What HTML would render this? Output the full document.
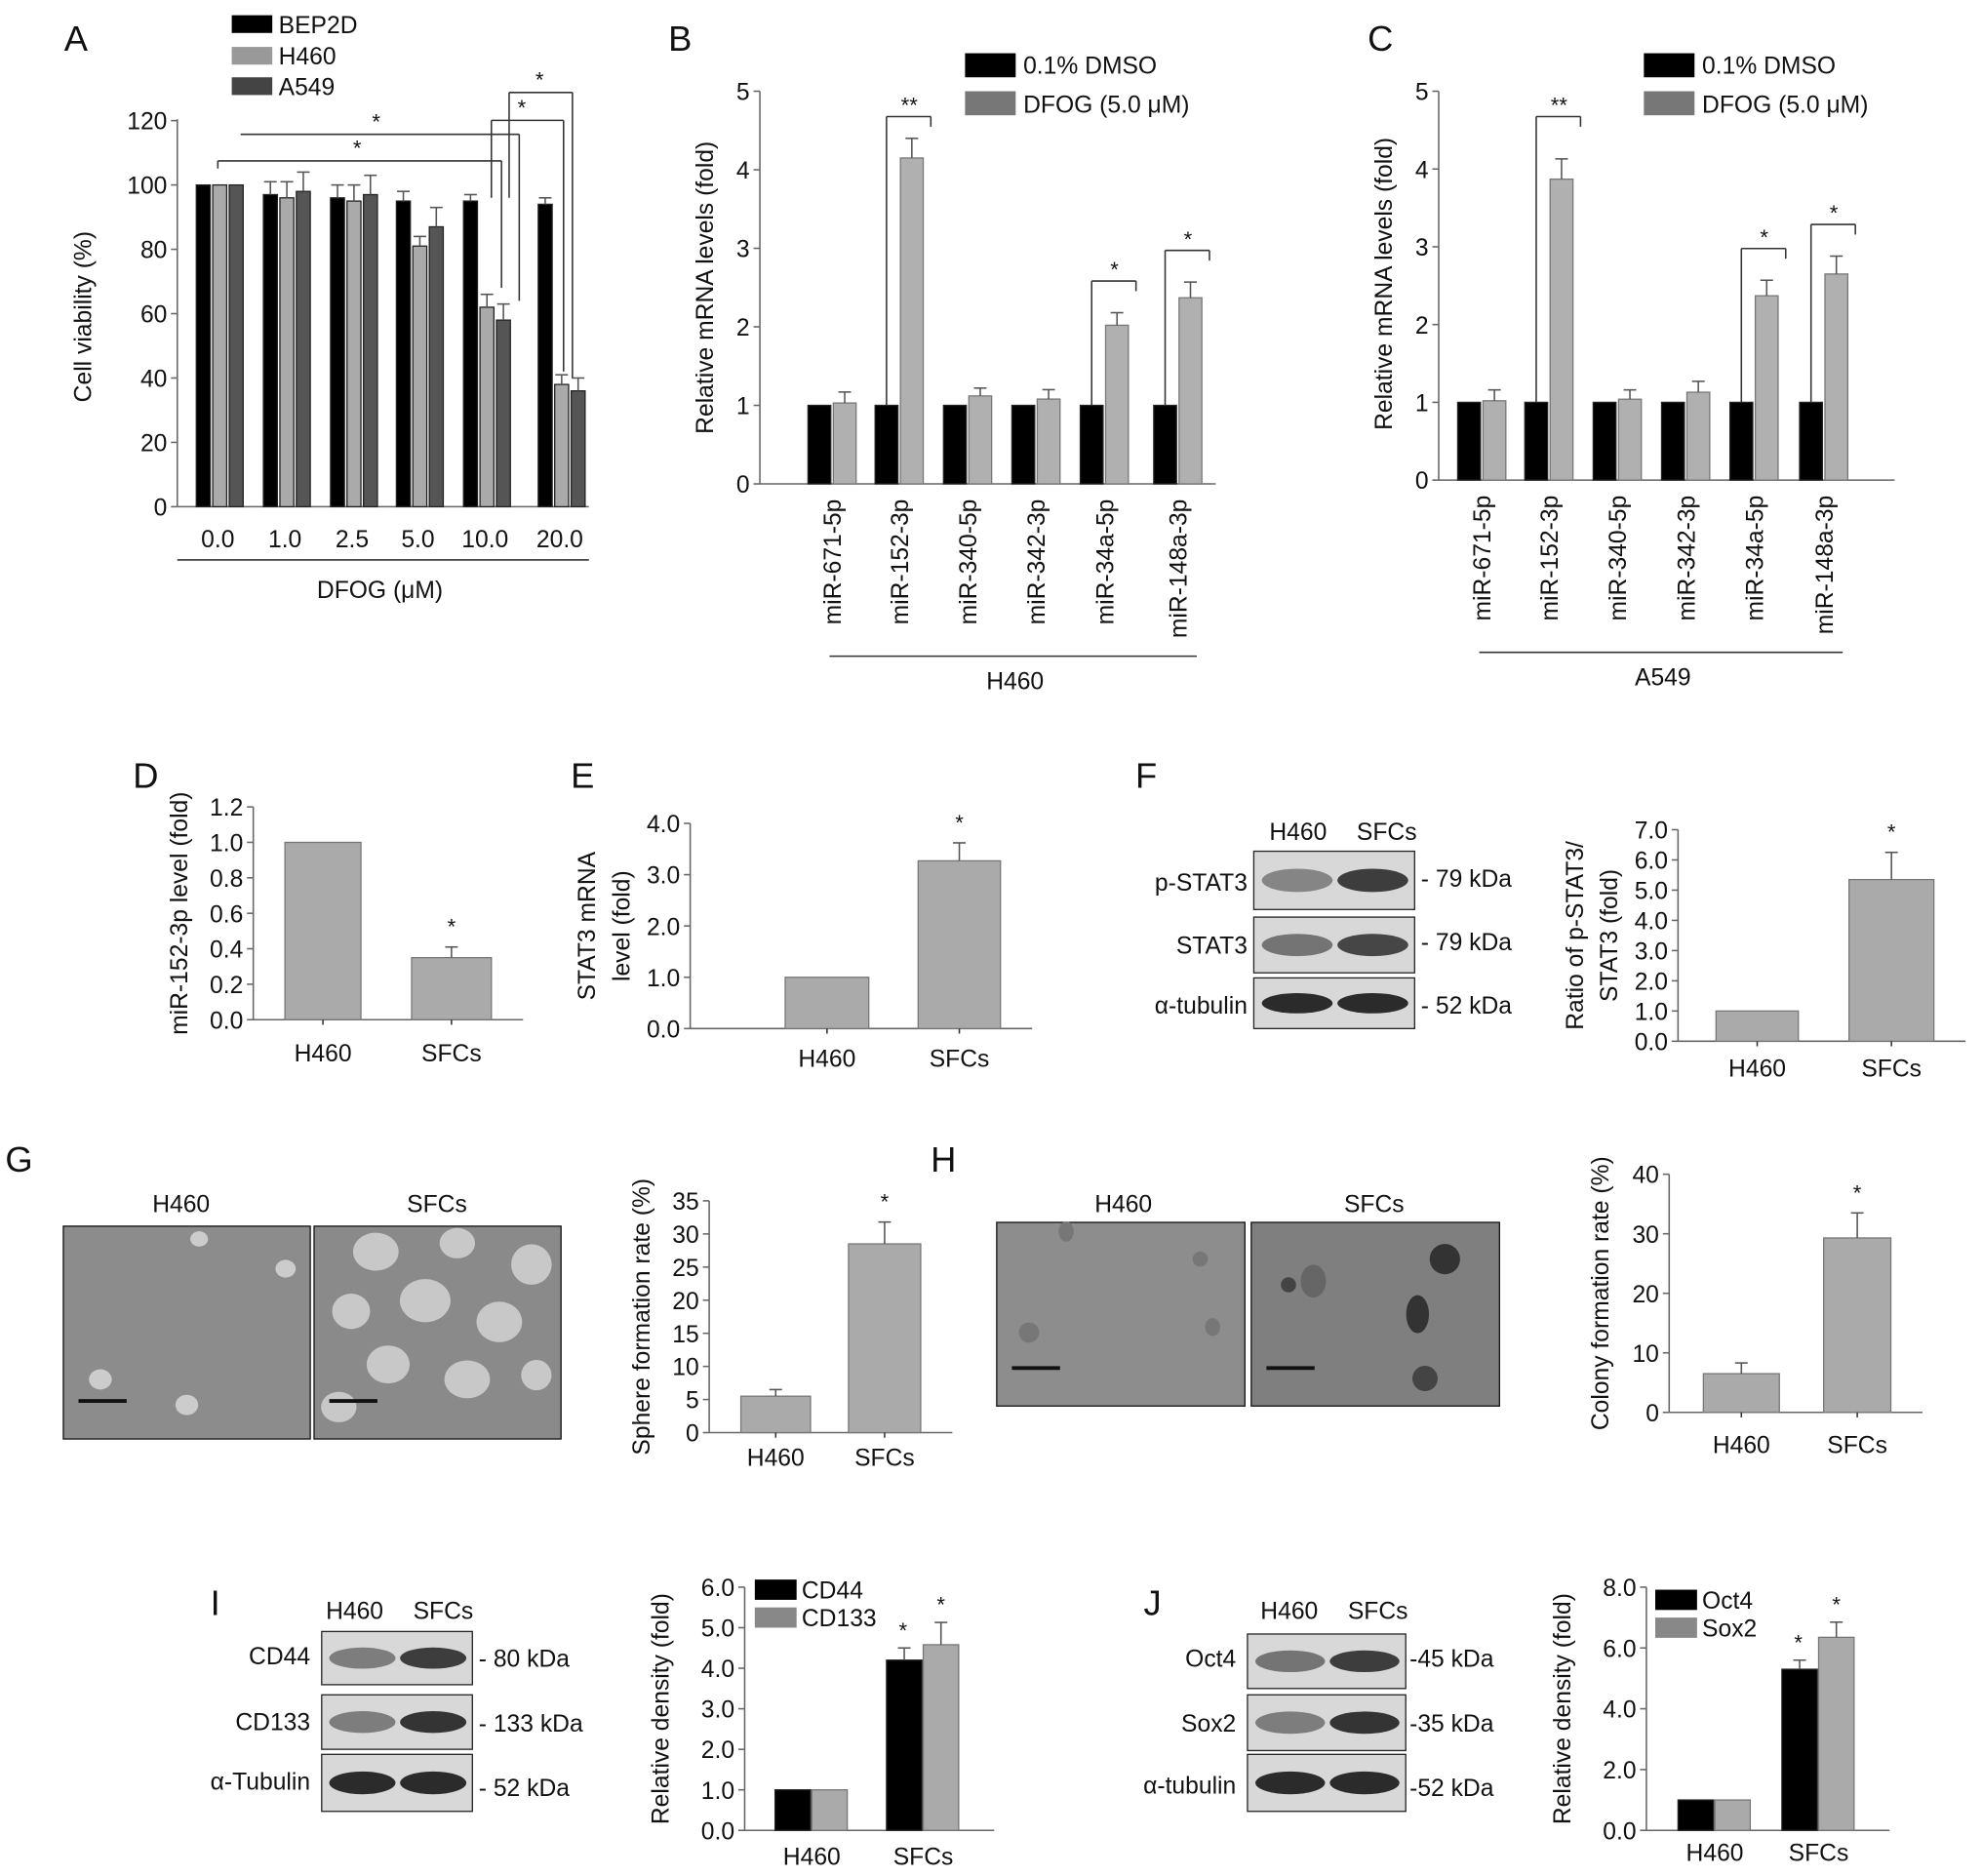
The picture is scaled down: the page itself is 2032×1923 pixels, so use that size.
<!DOCTYPE html>
<html><head><meta charset="utf-8"><style>
html,body{margin:0;padding:0;background:#fff;}
svg{display:block;font-family:"Liberation Sans",Arial,sans-serif;}
</style></head><body>
<svg id="fig" xmlns="http://www.w3.org/2000/svg" width="2032" height="1923" viewBox="0 0 1565 1481"></svg>
<script>
// ---------- data ----------
const aDoses = ["0.0","1.0","2.5","5.0","10.0","20.0"];
const aBEP2D = [100,97,96,95,95,94];
const aH460 = [100,96,95,81,62,38];
const aA549 = [100,98,97,87,58,36];
const aErrBEP = [0,4,4,3,2,2];
const aErrH460 = [0,5,5,3,4,3];
const aErrA549 = [0,6,6,6,5,4];
const aTicks = [0,20,40,60,80,100,120];

const mirCats = ["miR-671-5p","miR-152-3p","miR-340-5p","miR-342-3p","miR-34a-5p","miR-148a-3p"];
const bDMSO = [1,1,1,1,1,1];
const bDFOG = [1.03,4.15,1.12,1.08,2.02,2.37];
const bErr = [0.14,0.25,0.1,0.12,0.16,0.2];
const cDMSO = [1,1,1,1,1,1];
const cDFOG = [1.02,3.87,1.04,1.13,2.37,2.65];
const cErr = [0.14,0.26,0.12,0.14,0.2,0.23];
const mirTicks = [0,1,2,3,4,5];

const pairCats = ["H460","SFCs"];
const dVals = [1.0,0.35]; const dErr = [0,0.06];
const dTicks = [0,0.2,0.4,0.6,0.8,1.0,1.2];
const eVals = [1.0,3.27]; const eErr = [0,0.35];
const eTicks = [0,1,2,3,4];
const fVals = [1.0,5.35]; const fErr = [0,0.9];
const fTicks = [0,1,2,3,4,5,6,7];
const gVals = [5.5,28.5]; const gErr = [1,3.3];
const gTicks = [0,5,10,15,20,25,30,35];
const hVals = [6.5,29.3]; const hErr = [1.8,4.2];
const hTicks = [0,10,20,30,40];
const iCD44 = [1,4.2]; const iCD133 = [1,4.58];
const iErr44 = [0,0.3]; const iErr133 = [0,0.55];
const iTicks = [0,1,2,3,4,5,6];
const jOct4 = [1,5.3]; const jSox2 = [1,6.35];
const jErrO = [0,0.3]; const jErrS = [0,0.5];
const jTicks = [0,2,4,6,8];

// ---------- helpers ----------
const svg = document.getElementById('fig');
const NS = "http://www.w3.org/2000/svg";
function mk(tag, attrs, name, inter){
  const e = document.createElementNS(NS, tag);
  for (const k in attrs) e.setAttribute(k, attrs[k]);
  
  
  svg.appendChild(e);
  return e;
}
function T(x,y,s,size,name,anchor,rot){
  const a = {x:x,y:y,'font-size':size,'text-anchor':anchor||'middle',fill:'#111'};
  if (rot) a.transform = 'rotate(-90 '+x+' '+y+')';
  const e = mk('text', a, name, false);
  e.textContent = s;
  return e;
}
function L(x1,y1,x2,y2,name,w,c){ return mk('line',{x1:x1,y1:y1,x2:x2,y2:y2,stroke:c||'#333','stroke-width':w||1.2},name,false); }
function R(x,y,w,h,fill,name,stroke){ return mk('rect',{x:x,y:y,width:w,height:h,fill:fill,stroke:stroke||'none','stroke-width':1},name,false); }
function errBar(x, yTop, yErr, name){
  if (Math.abs(yTop-yErr) < 0.5) return;
  L(x,yTop,x,yErr,name,1.2,'#555');
  L(x-5,yErr,x+5,yErr,name+'-cap',1.2,'#555');
}
function yAxis(ax, y0, ytop, ticks, scale, fmt, name){
  L(ax, y0, ax, ytop, name+'-line', 1.2, '#666');
  ticks.forEach(t=>{
    const y = scale(t);
    L(ax-5,y,ax,y,name+'-tick',1.2,'#666');
    T(ax-8, y+7, fmt(t), 19, name+'-tick-label', 'end');
  });
}

// ---------- Panel A ----------
T(60,40,'A',28,'panel-label-a');
const yA = v => 400 - v*2.54;
const aCenters = [172,225,278,330,383,442];
yAxis(140,400,94,aTicks,yA,t=>String(t),'a-y-axis');
L(140,400,465,400,'a-x-axis',1.2,'#666');
T(72,250,'Cell viability (%)',19,'a-y-axis-title','middle',true);
const aSeries = [[aBEP2D,aErrBEP,'#000','bep2d'],[aH460,aErrH460,'#aaa','h460'],[aA549,aErrA549,'#555','a549']];
aDoses.forEach((d,i)=>{
  aSeries.forEach((s,k)=>{
    const x = aCenters[i]-17+k*13;
    R(x, yA(s[0][i]), 11, 400-yA(s[0][i]), s[2], 'a-bar-'+s[3]+'-'+d, '#222');
    errBar(x+5.5, yA(s[0][i]), yA(s[0][i]+s[1][i]), 'a-error-'+s[3]);
  });
  T(aCenters[i], 432, d, 19, 'a-x-tick-label');
});
L(140,442,465,442,'a-x-group-line',1.2,'#333');
T(300,472,'DFOG (μM)',19,'a-x-axis-title');
[['BEP2D','#000',12],['H460','#999',37],['A549','#444',61]].forEach(l=>{
  R(183,l[2],32,14,l[1],'a-legend-swatch-'+l[0].toLowerCase());
  T(220,l[2]+14,l[0],19,'a-legend-label-'+l[0].toLowerCase(),'start');
});
// significance
L(172,127,396,127,'a-sig-line'); L(172,127,172,133,'a-sig-line'); L(396,127,396,yA(68),'a-sig-line');
T(282,123,'*',17,'a-sig-star');
L(190,106,410,106,'a-sig-line'); L(410,106,410,yA(64),'a-sig-line');
T(297,102,'*',17,'a-sig-star');
L(388,95,445,95,'a-sig-line'); L(388,95,388,yA(96),'a-sig-line'); L(445,95,445,yA(42),'a-sig-line');
T(412,91,'*',17,'a-sig-star');
L(402,73,452,73,'a-sig-line'); L(402,73,402,yA(96),'a-sig-line'); L(452,73,452,yA(40),'a-sig-line');
T(426,69,'*',17,'a-sig-star');

// ---------- Panels B and C ----------
function mirPanel(p, ax, y0, sc, centers, dmso, dfog, err, group, letter, lx){
  const yS = v => y0 - v*sc;
  T(lx, 40, letter, 28, 'panel-label-'+p);
  yAxis(ax, y0, yS(5), mirTicks, yS, t=>String(t), p+'-y-axis');
  L(ax, y0, ax+360, y0, p+'-x-axis',1.2,'#666');
  T(ax-37, y0-155, 'Relative mRNA levels (fold)', 19, p+'-y-axis-title','middle',true);
  mirCats.forEach((c,i)=>{
    const cx = centers[i];
    R(cx-19, yS(dmso[i]), 18, y0-yS(dmso[i]), '#000', p+'-bar-dmso-'+c, '#222');
    R(cx+1, yS(dfog[i]), 18, y0-yS(dfog[i]), '#b0b0b0', p+'-bar-dfog-'+c, '#777');
    errBar(cx+10, yS(dfog[i]), yS(dfog[i]+err[i]), p+'-error-'+c);
    T(cx+7, y0+12, c, 19, p+'-x-tick-label', 'end', true);
  });
  L(centers[0]-2, y0+136, centers[5]+15, y0+136, p+'-group-line',1.2,'#333');
  T((centers[0]+centers[5])/2+8, y0+162, group, 19, p+'-group-label');
  R(ax+162, 42, 40, 19, '#000', p+'-legend-swatch-dmso');
  T(ax+208, 58, '0.1% DMSO', 19, p+'-legend-label-dmso','start');
  R(ax+162, 72, 40, 19, '#777', p+'-legend-swatch-dfog');
  T(ax+208, 89, 'DFOG (5.0 μM)', 19, p+'-legend-label-dfog','start');
  [[1,'**',92],[4,null,0],[5,null,0]].forEach(s=>{
    const i = s[0]; const cx = centers[i];
    const top = s[2] || (yS(dfog[i]+err[i]) - 25);
    L(cx-10, yS(1), cx-10, top, p+'-sig-line');
    L(cx-10, top, cx+25, top, p+'-sig-line');
    L(cx+25, top, cx+25, top+8, p+'-sig-line');
    T(cx+8, top-3, s[1]||'*', 17, p+'-sig-star');
  });
}
mirPanel('b', 600, 382, 62, [657,710,764,818,872,930], bDMSO, bDFOG, bErr, 'H460', 'B', 537);
mirPanel('c', 1136, 379, 61.4, [1170,1223,1277,1331,1385,1440], cDMSO, cDFOG, cErr, 'A549', 'C', 1090);

// ---------- simple two-bar panels ----------
function twoBar(p, ax, y0, ytop, vmax, ticks, fmt, bars, vals, err, titleLines, tx, lblY){
  const yS = v => y0 - v*(y0-ytop)/vmax;
  yAxis(ax, y0, ytop, ticks, yS, fmt, p+'-y-axis');
  L(ax, y0, bars[1][1]+25, y0, p+'-x-axis',1.2,'#666');
  pairCats.forEach((c,i)=>{
    const b = bars[i];
    R(b[0], yS(vals[i]), b[1]-b[0], y0-yS(vals[i]), '#aaa', p+'-bar-'+c.toLowerCase(), '#777');
    errBar((b[0]+b[1])/2, yS(vals[i]), yS(vals[i]+err[i]), p+'-error-'+c.toLowerCase());
    L((b[0]+b[1])/2, y0, (b[0]+b[1])/2, y0+4, p+'-x-tick');
    T((b[0]+b[1])/2, lblY, c, 19, p+'-x-tick-label');
  });
  T((bars[1][0]+bars[1][1])/2, yS(vals[1]+err[1])-10, '*', 17, p+'-sig-star');
  titleLines.forEach((s,k)=>{
    T(tx[k], (y0+ytop)/2, s, 19, p+'-y-axis-title'+(k?'-line2':''), 'middle', true);
  });
}
T(115,622,'D',28,'panel-label-d');
twoBar('d',200,805,637,1.2,dTicks,t=>t.toFixed(1),[[225,285],[325,388]],dVals,dErr,['miR-152-3p level (fold)'],[148],838);
T(460,622,'E',28,'panel-label-e');
twoBar('e',545,812,650,4,eTicks,t=>t.toFixed(1),[[620,686],[725,790]],eVals,eErr,['STAT3 mRNA','level (fold)'],[470,497],842);
T(905,622,'F',28,'panel-label-f');
twoBar('f',1325,822,655,7,fTicks,t=>t.toFixed(1),[[1355,1420],[1460,1527]],fVals,fErr,['Ratio of p-STAT3/','STAT3 (fold)'],[1250,1277],850);
T(15,925,'G',28,'panel-label-g');
twoBar('g',560,1131,948,35,gTicks,t=>String(t),[[585,640],[670,727]],gVals,gErr,['Sphere formation rate (%)'],[513],1157);
T(745,925,'H',28,'panel-label-h');
twoBar('h',1318,1115,927,40,hTicks,t=>String(t),[[1345,1405],[1440,1493]],hVals,hErr,['Colony formation rate (%)'],[1270],1147);

// ---------- grouped two-series panels ----------
function grouped(p, ax, y0, ytop, vmax, ticks, bars, s1, s2, e1, e2, names, legX, legY, lblY){
  const yS = v => y0 - v*(y0-ytop)/vmax;
  yAxis(ax, y0, ytop, ticks, yS, t=>t.toFixed(1), p+'-y-axis');
  L(ax, y0, bars[1]+85, y0, p+'-x-axis',1.2,'#666');
  T(ax-60, (y0+ytop)/2, 'Relative density (fold)', 19, p+'-y-axis-title','middle',true);
  pairCats.forEach((c,i)=>{
    const x = bars[i];
    R(x, yS(s1[i]), 28, y0-yS(s1[i]), '#000', p+'-bar-'+names[0].toLowerCase()+'-'+c.toLowerCase(), '#222');
    R(x+29, yS(s2[i]), 28, y0-yS(s2[i]), '#aaa', p+'-bar-'+names[1].toLowerCase()+'-'+c.toLowerCase(), '#777');
    errBar(x+14, yS(s1[i]), yS(s1[i]+e1[i]), p+'-error-'+names[0].toLowerCase());
    errBar(x+43, yS(s2[i]), yS(s2[i]+e2[i]), p+'-error-'+names[1].toLowerCase());
    T(x+29, lblY, c, 19, p+'-x-tick-label');
    if (i===1){
      T(x+13, yS(s1[i]+e1[i])-8, '*', 17, p+'-sig-star');
      T(x+43, yS(s2[i]+e2[i])-8, '*', 17, p+'-sig-star');
    }
  });
  R(legX, legY, 33, 16, '#000', p+'-legend-swatch-'+names[0].toLowerCase());
  T(legX+37, legY+15, names[0], 19, p+'-legend-label-'+names[0].toLowerCase(), 'start');
  R(legX, legY+22, 33, 16, '#888', p+'-legend-swatch-'+names[1].toLowerCase());
  T(legX+37, legY+37, names[1], 19, p+'-legend-label-'+names[1].toLowerCase(), 'start');
}
T(170,1275,'I',28,'panel-label-i');
grouped('i',588,1445,1253,6,iTicks,[612,700],iCD44,iCD133,iErr44,iErr133,['CD44','CD133'],596,1247,1472);
T(910,1275,'J',28,'panel-label-j');
grouped('j',1300,1445,1253,8,jTicks,[1325,1407],jOct4,jSox2,jErrO,jErrS,['Oct4','Sox2'],1307,1255,1469);

// ---------- western blots ----------
function blot(p, x, y, w, h, intens, name){
  R(x, y, w, h, '#d8d8d8', p+'-blot-'+name, '#222');
  intens.forEach((a,k)=>{
    mk('ellipse',{cx:x+w*(k?0.74:0.27), cy:y+h/2, rx:w*0.22, ry:h*0.2, fill:'#222', opacity:a}, p+'-band-'+name+'-'+(k?'sfcs':'h460'), false);
  });
}
T(1025,663,'H460',19,'f-lane-label-h460'); T(1095,663,'SFCs',19,'f-lane-label-sfcs');
blot('f',990,672,127,46,[0.45,0.85],'p-stat3');
blot('f',990,724,127,44,[0.55,0.8],'stat3');
blot('f',990,772,127,40,[0.95,0.95],'tubulin');
T(985,703,'p-STAT3',19,'f-row-label-pstat3','end'); T(985,753,'STAT3',19,'f-row-label-stat3','end'); T(985,800,'α-tubulin',19,'f-row-label-tubulin','end');
T(1122,700,'- 79 kDa',19,'f-kda-pstat3','start'); T(1122,750,'- 79 kDa',19,'f-kda-stat3','start'); T(1122,800,'- 52 kDa',19,'f-kda-tubulin','start');
T(280,1278,'H460',19,'i-lane-label-h460'); T(350,1278,'SFCs',19,'i-lane-label-sfcs');
blot('i',254,1288,119,42,[0.5,0.85],'cd44');
blot('i',254,1338,119,43,[0.5,0.9],'cd133');
blot('i',254,1385,119,45,[0.95,0.95],'tubulin');
T(245,1314,'CD44',19,'i-row-label-cd44','end'); T(245,1366,'CD133',19,'i-row-label-cd133','end'); T(245,1413,'α-Tubulin',19,'i-row-label-tubulin','end');
T(378,1316,'- 80 kDa',19,'i-kda-cd44','start'); T(378,1367,'- 133 kDa',19,'i-kda-cd133','start'); T(378,1418,'- 52 kDa',19,'i-kda-tubulin','start');
T(1018,1278,'H460',19,'j-lane-label-h460'); T(1088,1278,'SFCs',19,'j-lane-label-sfcs');
blot('j',985,1290,125,43,[0.55,0.85],'oct4');
blot('j',985,1338,125,44,[0.5,0.9],'sox2');
blot('j',985,1385,125,45,[0.95,0.95],'tubulin');
T(976,1316,'Oct4',19,'j-row-label-oct4','end'); T(976,1367,'Sox2',19,'j-row-label-sox2','end'); T(976,1416,'α-tubulin',19,'j-row-label-tubulin','end');
T(1113,1316,'-45 kDa',19,'j-kda-oct4','start'); T(1113,1367,'-35 kDa',19,'j-kda-sox2','start'); T(1113,1418,'-52 kDa',19,'j-kda-tubulin','start');

// ---------- micrographs ----------
function micro(p, x, y, w, h, fill, blobs, name){
  R(x, y, w, h, fill, p+'-image-'+name, '#111');
  blobs.forEach(b=>{
    mk('ellipse',{cx:x+b[0]*w, cy:y+b[1]*h, rx:b[2], ry:b[3], fill:b[4]}, p+'-colony', false);
  });
  L(x+12, y+h-30, x+50, y+h-30, p+'-scale-bar', 3, '#111');
}
T(143,957,'H460',19,'g-image-label-h460'); T(345,957,'SFCs',19,'g-image-label-sfcs');
micro('g',50,968,195,168,'#8c8c8c',[[0.55,0.06,7,6,'#ccc'],[0.9,0.2,8,7,'#ccc'],[0.15,0.72,9,8,'#ccc'],[0.5,0.84,9,8,'#ccc']],'h460');
micro('g',248,968,195,168,'#8a8a8a',[[0.25,0.12,18,15,'#c8c8c8'],[0.58,0.08,14,12,'#c8c8c8'],[0.88,0.18,16,16,'#c8c8c8'],[0.15,0.4,15,14,'#c8c8c8'],[0.45,0.35,20,17,'#c8c8c8'],[0.75,0.45,18,16,'#c8c8c8'],[0.3,0.65,17,15,'#c8c8c8'],[0.62,0.72,18,15,'#c8c8c8'],[0.9,0.7,12,12,'#c8c8c8'],[0.1,0.85,14,12,'#c8c8c8']],'sfcs');
T(887,957,'H460',19,'h-image-label-h460'); T(1085,957,'SFCs',19,'h-image-label-sfcs');
micro('h',787,965,196,145,'#8d8d8d',[[0.28,0.05,6,8,'#777'],[0.82,0.2,6,6,'#777'],[0.13,0.6,8,8,'#777'],[0.87,0.57,6,7,'#777']],'h460');
micro('h',988,965,196,145,'#7f7f7f',[[0.25,0.32,10,13,'#666'],[0.78,0.2,12,12,'#333'],[0.67,0.5,9,15,'#333'],[0.7,0.85,10,10,'#444'],[0.15,0.34,6,6,'#444']],'sfcs');
</script>
</body></html>
